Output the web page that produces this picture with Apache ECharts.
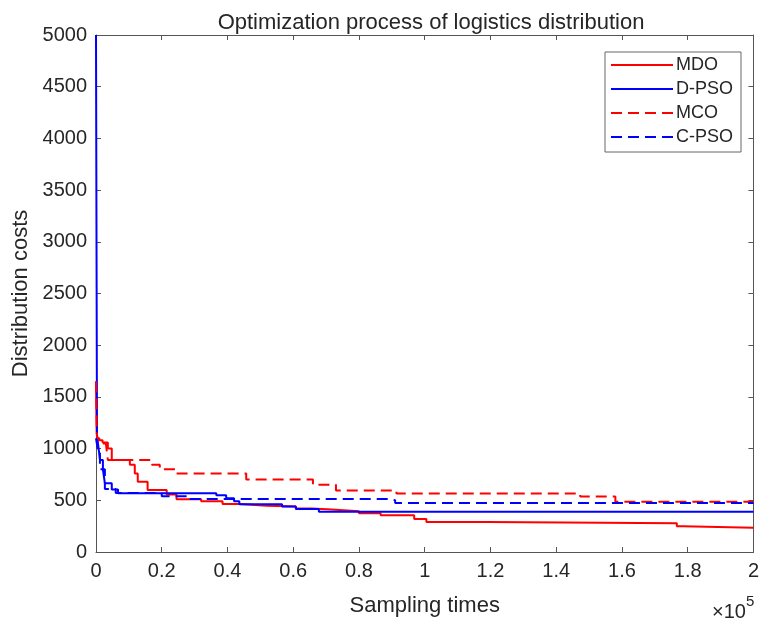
<!DOCTYPE html>
<html>
<head>
<meta charset="utf-8">
<script src="https://cdn.jsdelivr.net/npm/echarts@6/dist/echarts.min.js"></script>
<style>html,body{margin:0;padding:0;background:#fff}#c{width:762px;height:622px}</style>
</head>
<body>
<div id="c"></div>
<script>
// x in units of 1e5 sampling times
const xTicks = [0, 0.2, 0.4, 0.6, 0.8, 1, 1.2, 1.4, 1.6, 1.8, 2];
const yTicks = [0, 500, 1000, 1500, 2000, 2500, 3000, 3500, 4000, 4500, 5000];
const seriesNames = ['MDO', 'D-PSO', 'MCO', 'C-PSO'];
const mdo = [[0,1650],[0.002,1150],[0.006,1080],[0.02,1060],[0.036,1000],[0.048,890],[0.103,845],[0.118,760],[0.127,680],[0.157,600],[0.215,555],[0.245,510],[0.32,490],[0.385,465],[0.436,448],[0.52,440],[0.608,420],[0.657,410],[0.717,395],[0.80,375],[0.866,355],[0.968,318],[1.005,290],[1.192,278],[1.767,250],[1.785,235],[2,235]];
const dpso = [[0,5000],[0.003,1120],[0.008,1000],[0.012,890],[0.021,800],[0.027,665],[0.048,605],[0.067,568],[0.366,548],[0.396,520],[0.42,490],[0.436,462],[0.566,440],[0.608,415],[0.678,390],[2,390]];
const mco = [[0,1650],[0.003,1100],[0.01,1050],[0.03,1040],[0.036,890],[0.17,845],[0.194,800],[0.245,758],[0.457,700],[0.66,650],[0.73,595],[0.914,566],[1.473,537],[1.58,485],[2,485]];
const cpso = [[0,1100],[0.005,1000],[0.012,800],[0.027,610],[0.06,570],[0.2,540],[0.28,512],[0.896,500],[0.91,475],[2,475]];

const chart = echarts.init(document.getElementById('c'));
const axisColor = '#555';
const textColor = '#262626';
const font = 'Liberation Sans, Arial, sans-serif';
const gridPos = {left: 96, right: 5, top: 35, bottom: 66};
function mkSeries(name, data, color, dashed) {
  return {
    name, type: 'line', data, step: 'end', symbol: 'none', xAxisIndex: 0, yAxisIndex: 0,
    lineStyle: {color, width: 2, type: dashed ? [11, 6] : 'solid'},
    itemStyle: {color}, animation: false
  };
}
chart.setOption({
  animation: false,
  title: {text: 'Optimization process of logistics distribution', left: 426, textAlign: 'center', top: 7,
    textStyle: {fontFamily: font, fontSize: 22, fontWeight: 'normal', color: textColor}},
  grid: gridPos,
  legend: {
    orient: 'vertical', left: 605, top: 52, width: 137, height: 101,
    data: seriesNames, itemWidth: 62, itemHeight: 10, itemGap: 6,
    padding: [4, 8, 6, 5], borderColor: '#666', borderWidth: 1, backgroundColor: '#fff',
    itemStyle: {opacity: 0},
    textStyle: {fontFamily: font, fontSize: 18, color: textColor, padding: [0,0,0,-2]}
  },
  xAxis: [{
    type: 'value', min: 0, max: 2, interval: 0.2, position: 'bottom',
    name: 'Sampling times', nameLocation: 'middle', nameGap: 43,
    nameTextStyle: {fontFamily: font, fontSize: 22, color: textColor},
    axisLine: {show: true, lineStyle: {color: axisColor, width: 1}},
    axisTick: {show: true, inside: true, length: 5, lineStyle: {color: axisColor}},
    axisLabel: {fontFamily: font, fontSize: 20, color: textColor, margin: 9},
    splitLine: {show: false}
  }, {
    type: 'value', min: 0, max: 2, interval: 0.2, position: 'top', gridIndex: 0,
    axisLine: {show: true, onZero: false, lineStyle: {color: axisColor, width: 1}},
    axisTick: {show: true, inside: true, length: 5, lineStyle: {color: axisColor}},
    axisLabel: {show: false}, splitLine: {show: false}
  }],
  yAxis: [{
    type: 'value', min: 0, max: 5000, interval: 500, position: 'left',
    name: 'Distribution costs', nameLocation: 'middle', nameGap: 52,
    nameTextStyle: {fontFamily: font, fontSize: 22, color: textColor},
    axisLine: {show: true, lineStyle: {color: axisColor, width: 1}},
    axisTick: {show: true, inside: true, length: 5, lineStyle: {color: axisColor}},
    axisLabel: {fontFamily: font, fontSize: 20, color: textColor, margin: 9, formatter: v => String(v)},
    splitLine: {show: false}
  }, {
    type: 'value', min: 0, max: 5000, interval: 500, position: 'right',
    axisLine: {show: true, onZero: false, lineStyle: {color: axisColor, width: 1}},
    axisTick: {show: true, inside: true, length: 5, lineStyle: {color: axisColor}},
    axisLabel: {show: false}, splitLine: {show: false}
  }],
  graphic: [{
    type: 'text', left: 712, top: 594,
    style: {
      text: '{a|×10}{b|5}', fill: textColor, fontFamily: font,
      rich: {a: {fontSize: 20, fontFamily: font, fill: textColor, padding: [8,0,0,0]}, b: {fontSize: 15, fontFamily: font, fill: textColor, verticalAlign: 'top', padding: [0,0,8,0]}}
    }
  }],
  series: [
    mkSeries('MDO', mdo, '#ff0000', false),
    mkSeries('D-PSO', dpso, '#0000ff', false),
    mkSeries('MCO', mco, '#ff0000', true),
    mkSeries('C-PSO', cpso, '#0000ff', true)
  ]
});
</script>
</body>
</html>
